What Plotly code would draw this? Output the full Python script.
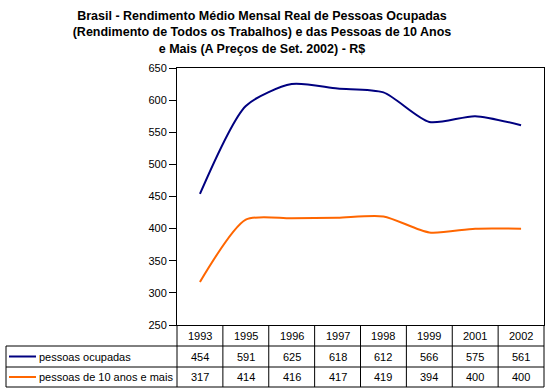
import plotly.graph_objects as go

categories = ["1993", "1995", "1996", "1997", "1998", "1999", "2001", "2002"]
ocupadas = [454, 591, 625, 618, 612, 566, 575, 561]
dez_anos = [317, 414, 416, 417, 419, 394, 400, 400]
series_names = ["pessoas ocupadas", "pessoas de 10 anos e mais"]
series_values = [ocupadas, dez_anos]
series_colors = ["#000080", "#FF6600"]
y_ticks = [250, 300, 350, 400, 450, 500, 550, 600, 650]

W, H = 550, 392
L, R, T, B = 177, 544, 68, 325  # plot area in pixels
FONT = "Liberation Sans, Arial, sans-serif"

def px(xp):
    return (xp - L) / (R - L)

def py(yp):
    return (B - yp) / (B - T)

x = list(range(len(categories)))
fig = go.Figure()
for name, vals, col in zip(series_names, series_values, series_colors):
    fig.add_trace(go.Scatter(x=x, y=vals, mode="lines", name=name,
                             line=dict(color=col, width=2, shape="spline", smoothing=0.7),
                             showlegend=False, hoverinfo="skip"))

shapes = []
annotations = []
row_top = [325, 346, 367, 387]
col_w = (R - L) / len(categories)
col_x = [L + i * col_w for i in range(len(categories) + 1)]
line = dict(color="black", width=1)
for yp in row_top[1:]:
    shapes.append(dict(type="line", xref="paper", yref="paper", x0=px(6), x1=px(R),
                       y0=py(yp), y1=py(yp), line=line))
for xp in col_x:
    shapes.append(dict(type="line", xref="paper", yref="paper", x0=px(xp), x1=px(xp),
                       y0=py(row_top[0]), y1=py(row_top[3]), line=line))
shapes.append(dict(type="line", xref="paper", yref="paper", x0=px(6), x1=px(6),
                   y0=py(row_top[1]), y1=py(row_top[3]), line=line))

for i, c in enumerate(categories):
    annotations.append(dict(xref="paper", yref="paper", x=px((col_x[i] + col_x[i + 1]) / 2),
                            y=py((row_top[0] + row_top[1]) / 2), text=c, showarrow=False,
                            xanchor="center", yanchor="middle",
                            font=dict(family=FONT, size=11, color="black")))
for r, (name, vals, col) in enumerate(zip(series_names, series_values, series_colors)):
    yc = (row_top[r + 1] + row_top[r + 2]) / 2
    shapes.append(dict(type="line", xref="paper", yref="paper", x0=px(9), x1=px(36),
                       y0=py(yc), y1=py(yc), line=dict(color=col, width=2)))
    annotations.append(dict(xref="paper", yref="paper", x=px(37), y=py(yc), text=name,
                            showarrow=False, xanchor="left", yanchor="middle",
                            font=dict(family=FONT, size=11, color="black")))
    for i, v in enumerate(vals):
        annotations.append(dict(xref="paper", yref="paper", x=px((col_x[i] + col_x[i + 1]) / 2),
                                y=py(yc), text=str(v), showarrow=False,
                                xanchor="center", yanchor="middle",
                                font=dict(family=FONT, size=11, color="black")))

fig.update_layout(
    width=W, height=H,
    margin=dict(l=L, r=W - R, t=T, b=H - B, pad=0),
    paper_bgcolor="white", plot_bgcolor="white",
    title=dict(text="Brasil - Rendimento Médio Mensal Real de Pessoas Ocupadas<br>"
                    "(Rendimento de Todos os Trabalhos) e das Pessoas de 10 Anos<br>"
                    "e Mais (A Preços de Set. 2002) - R$",
               x=262 / W, xanchor="center", xref="container",
               y=1 - 20 / H, yanchor="top", yref="container",
               font=dict(family=FONT, size=12.5, color="black", weight="bold")),
    xaxis=dict(range=[-0.5, len(categories) - 0.5], showticklabels=False, ticks="",
               showgrid=False, zeroline=False, showline=True, linecolor="black",
               linewidth=1, mirror=True, fixedrange=True),
    yaxis=dict(range=[250, 650], tickvals=y_ticks, ticks="outside", ticklen=7,
               tickcolor="black", showgrid=False, zeroline=False, showline=True,
               linecolor="black", linewidth=1, mirror=True, fixedrange=True,
               tickfont=dict(family=FONT, size=11, color="black")),
    shapes=shapes, annotations=annotations,
)
fig.write_html("out.html", config={"displayModeBar": False},
               post_script="document.body.style.margin='0';")
